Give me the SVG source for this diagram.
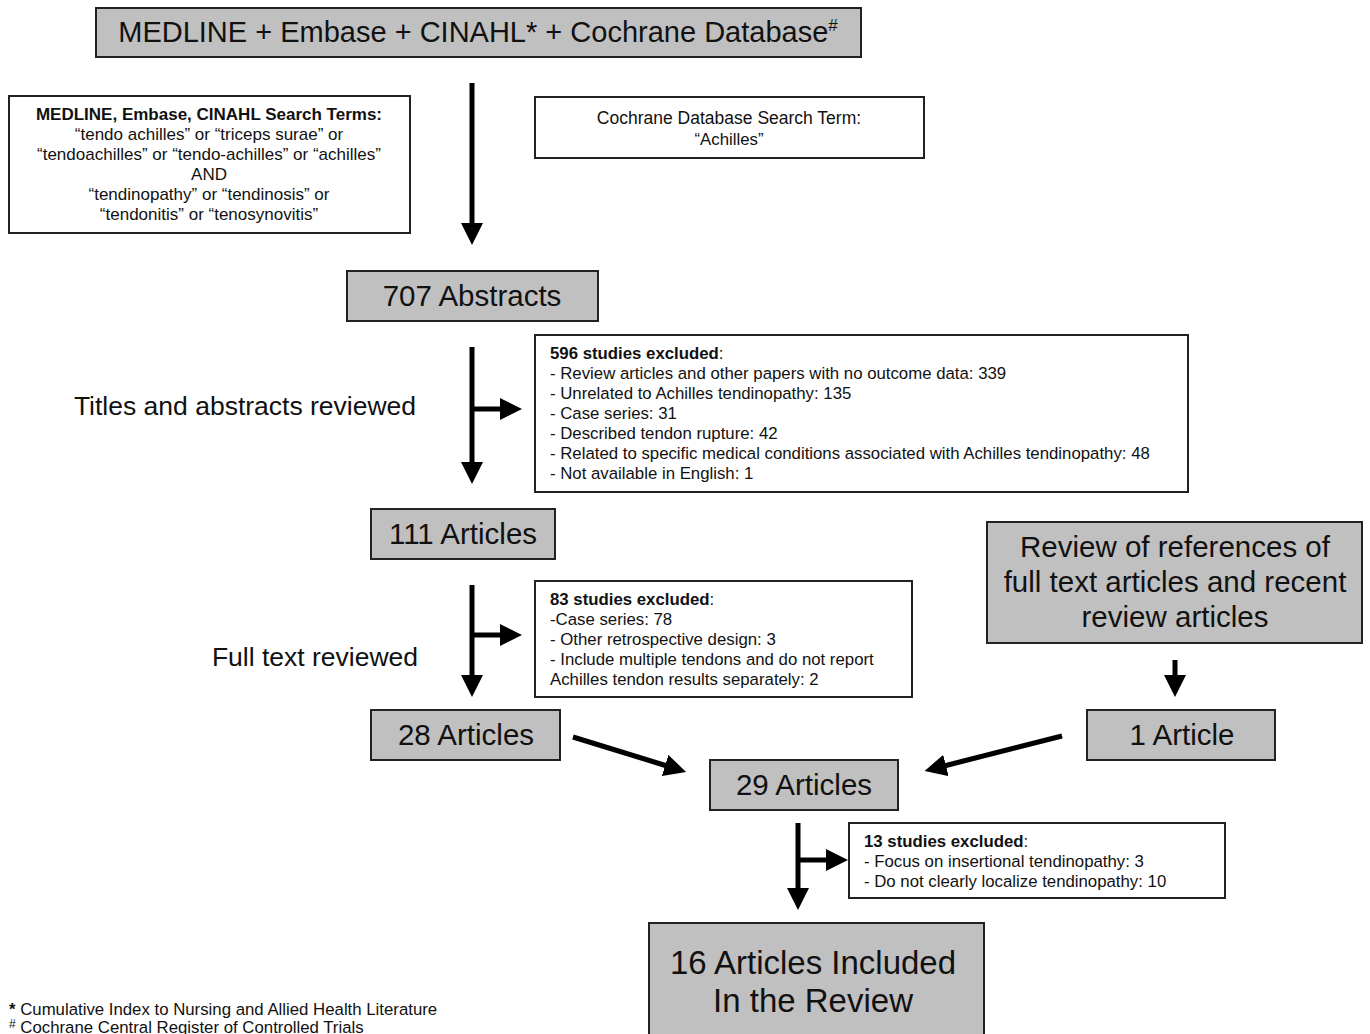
<svg xmlns="http://www.w3.org/2000/svg" width="1370" height="1034" viewBox="0 0 1370 1034">
<style>
text{font-family:"Liberation Sans",Arial,sans-serif;fill:#111}
.g{fill:#c0c0c0;stroke:#222;stroke-width:2}
.w{fill:#fff;stroke:#222;stroke-width:2}
.big{font-size:29.5px;text-anchor:middle}
.sm{font-size:16.8px}
.c{text-anchor:middle}
.b{font-weight:bold}
.lbl{font-size:26.5px;text-anchor:middle}
.ln{stroke:#000;stroke-width:5;fill:none}
</style>
<defs>
<marker id="ah" markerUnits="userSpaceOnUse" markerWidth="22" markerHeight="22" refX="2" refY="11" orient="auto">
<path d="M0,0 L22,11 L0,22 Z" fill="#000"/>
</marker>
</defs>
<g id="n-databases">
<rect class="g" x="96" y="8" width="765" height="49"/>
<text class="big" x="478" y="42" style="font-size:29px">MEDLINE + Embase + CINAHL* + Cochrane Database<tspan font-size="17" dy="-11">#</tspan></text>
</g>
<g id="n-terms">
<rect class="w" x="9" y="96" width="401" height="137"/>
<text class="c" style="font-size:17px" x="209" y="120"><tspan class="b">MEDLINE, Embase, CINAHL Search Terms:</tspan><tspan x="209" dy="20">“tendo achilles” or “triceps surae” or</tspan><tspan x="209" dy="20">“tendoachilles” or “tendo-achilles” or “achilles”</tspan><tspan x="209" dy="20">AND</tspan><tspan x="209" dy="20">“tendinopathy” or “tendinosis” or</tspan><tspan x="209" dy="20">“tendonitis” or “tenosynovitis”</tspan></text>
</g>
<g id="n-cochrane">
<rect class="w" x="535" y="97" width="389" height="61"/>
<text class="c" style="font-size:17.5px" x="729" y="124">Cochrane Database Search Term:<tspan x="729" dy="21" style="font-size:16.8px">“Achilles”</tspan></text>
</g>
<g id="n-707">
<rect class="g" x="347" y="271" width="251" height="50"/>
<text class="big" x="472" y="306">707 Abstracts</text>
</g>
<g id="n-titles">
<text class="lbl" x="245" y="415">Titles and abstracts reviewed</text>
</g>
<g id="n-596">
<rect class="w" x="535" y="335" width="653" height="157"/>
<text class="sm" x="550" y="359"><tspan class="b">596 studies excluded</tspan>:<tspan x="550" dy="20">- Review articles and other papers with no outcome data: 339</tspan><tspan x="550" dy="20">- Unrelated to Achilles tendinopathy: 135</tspan><tspan x="550" dy="20">- Case series: 31</tspan><tspan x="550" dy="20">- Described tendon rupture: 42</tspan><tspan x="550" dy="20">- Related to specific medical conditions associated with Achilles tendinopathy: 48</tspan><tspan x="550" dy="20">- Not available in English: 1</tspan></text>
</g>
<g id="n-111">
<rect class="g" x="371" y="509" width="184" height="50"/>
<text class="big" x="463" y="544">111 Articles</text>
</g>
<g id="n-refs">
<rect class="g" x="987" y="522" width="375" height="121"/>
<text class="big" x="1175" y="557">Review of references of<tspan x="1175" dy="35">full text articles and recent</tspan><tspan x="1175" dy="35">review articles</tspan></text>
</g>
<g id="n-full">
<text class="lbl" x="315" y="666">Full text reviewed</text>
</g>
<g id="n-83">
<rect class="w" x="535" y="581" width="377" height="116"/>
<text class="sm" x="550" y="605"><tspan class="b">83 studies excluded</tspan>:<tspan x="550" dy="20">-Case series: 78</tspan><tspan x="550" dy="20">- Other retrospective design: 3</tspan><tspan x="550" dy="20">- Include multiple tendons and do not report</tspan><tspan x="550" dy="20">Achilles tendon results separately: 2</tspan></text>
</g>
<g id="n-28">
<rect class="g" x="371" y="710" width="189" height="50"/>
<text class="big" x="466" y="745">28 Articles</text>
</g>
<g id="n-1">
<rect class="g" x="1087" y="710" width="188" height="50"/>
<text class="big" x="1182" y="745">1 Article</text>
</g>
<g id="n-29">
<rect class="g" x="710" y="760" width="188" height="50"/>
<text class="big" x="804" y="795">29 Articles</text>
</g>
<g id="n-13">
<rect class="w" x="849" y="823" width="376" height="75"/>
<text class="sm" x="864" y="847"><tspan class="b">13 studies excluded</tspan>:<tspan x="864" dy="20">- Focus on insertional tendinopathy: 3</tspan><tspan x="864" dy="20">- Do not clearly localize tendinopathy: 10</tspan></text>
</g>
<g id="n-16">
<rect class="g" x="649" y="923" width="335" height="120"/>
<text class="big" x="813" y="974" style="font-size:33px">16 Articles Included<tspan x="813" dy="38">In the Review</tspan></text>
</g>
<g id="n-footnotes">
<text class="sm" x="9" y="1015"><tspan class="b">*</tspan> Cumulative Index to Nursing and Allied Health Literature<tspan x="9" dy="13" font-size="12">#</tspan><tspan font-size="16.8" dy="5"> Cochrane Central Register of Controlled Trials</tspan></text>
</g>
<g id="connectors">
<path class="ln" d="M472,83 V225" marker-end="url(#ah)"/>
<path class="ln" d="M472,347 V464" marker-end="url(#ah)"/>
<path class="ln" d="M472,409 H502" marker-end="url(#ah)"/>
<path class="ln" d="M472,585 V677" marker-end="url(#ah)"/>
<path class="ln" d="M472,635 H502" marker-end="url(#ah)"/>
<path class="ln" d="M1175,660 V677" marker-end="url(#ah)"/>
<path class="ln" d="M573,737 L667,766" marker-end="url(#ah)"/>
<path class="ln" d="M1062,736 L944,766" marker-end="url(#ah)"/>
<path class="ln" d="M798,823 V890" marker-end="url(#ah)"/>
<path class="ln" d="M798,860 H828" marker-end="url(#ah)"/>
</g>
</svg>
